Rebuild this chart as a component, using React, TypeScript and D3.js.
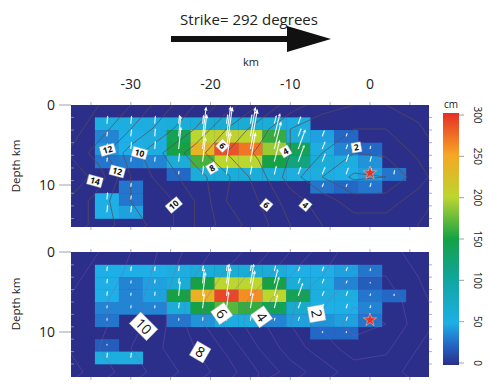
import React from 'react';
import * as d3 from 'd3';

// fault grid: 13 subfaults along strike (3 km), 8 rows down dip
const colStartKm = -34.5;
const colWidthKm = 3;

// slip in cm, rows from shallow to deep, columns west -> east
const slipTop = [
  [55, 55, 55, 60, 60, 65, 65, 60, 55, 0, 0, 0, 0],
  [35, 50, 55, 140, 200, 205, 200, 160, 60, 45, 25, 0, 0],
  [40, 50, 55, 150, 235, 285, 270, 190, 140, 55, 35, 25, 0],
  [30, 32, 35, 60, 165, 200, 200, 150, 120, 60, 55, 40, 0],
  [0, 0, 0, 25, 60, 60, 60, 60, 55, 55, 50, 45, 30],
  [0, 30, 0, 0, 0, 0, 0, 0, 0, 30, 25, 30, 0],
  [50, 30, 0, 0, 0, 0, 0, 0, 0, 0, 0, 0, 0],
  [50, 45, 0, 0, 0, 0, 0, 0, 0, 0, 0, 0, 0],
];

const slipBottom = [
  [50, 50, 50, 55, 60, 65, 65, 60, 50, 50, 45, 30, 0],
  [50, 35, 45, 60, 150, 200, 200, 150, 60, 55, 35, 20, 0],
  [50, 35, 45, 150, 240, 290, 260, 200, 140, 55, 55, 30, 25],
  [35, 35, 35, 60, 150, 170, 160, 140, 70, 50, 50, 35, 0],
  [30, 0, 0, 30, 40, 55, 55, 35, 45, 40, 45, 30, 0],
  [0, 0, 0, 0, 0, 0, 0, 0, 0, 25, 25, 0, 0],
  [20, 0, 0, 0, 0, 0, 0, 0, 0, 0, 0, 0, 0],
  [55, 55, 0, 0, 0, 0, 0, 0, 0, 0, 0, 0, 0],
];

// rake tilt from vertical (deg) per column
const rakeTilt = [6, 6, 5, 6, 7, 8, 10, 14, 20, 22, 20, 15, 10];

// rupture time (s) sampled along strike / depth
const timeX = [-38, -34, -30, -26, -22, -18, -14, -10, -6, -2, 2, 6, 10];
const timeDepth = [0, 3, 6, 9, 12, 15];

const timeTop = [
  [15, 14, 13, 11.5, 10, 8.5, 7, 5.5, 4.5, 4, 4, 4.5, 5.5],
  [14.5, 13.5, 12, 10.5, 9, 7, 5.5, 4, 3.2, 3, 3, 3.8, 5],
  [14, 12.5, 10.5, 9, 7.5, 6, 4.8, 4, 3, 2, 2.2, 3.2, 4.5],
  [15, 13.5, 11, 9.5, 8.5, 7.2, 5.5, 3.5, 2, 0.8, 1, 2.5, 4],
  [14, 12.5, 11, 10.5, 9, 7, 6, 4.5, 3.5, 2.5, 2.5, 3.5, 4.5],
  [14, 12.5, 11.5, 10.5, 9, 7.5, 6.5, 5, 4, 3.5, 3.5, 4, 5],
];

const timeBottom = [
  [13, 12, 11, 9.8, 8.5, 7.5, 6.5, 5, 3.5, 2.5, 2.5, 3.5, 4.5],
  [12.5, 11.5, 10.8, 9.5, 8, 6.8, 5.5, 4, 3, 2, 2, 3, 4],
  [12, 11.2, 10.5, 9.2, 7.5, 6, 4.5, 3.2, 2.2, 1.2, 1.5, 2.5, 4],
  [12, 11.2, 10.5, 9.2, 7.5, 5.8, 4.3, 3, 1.8, 0.5, 1, 2.5, 3.5],
  [12, 11, 10, 9, 8, 6.8, 5, 3.5, 2.5, 1.5, 1.8, 3, 4],
  [12.5, 11.5, 10.5, 9.5, 8.5, 7.5, 6, 4.5, 3.5, 2.5, 2.5, 3.5, 4.5],
];

// contour labels: along-strike km, depth km, text, rotation
const labelsTop = [
  { x: -32.9, d: 5.6, t: '12', r: -15 },
  { x: -28.9, d: 6.0, t: '10', r: 15 },
  { x: -31.7, d: 8.3, t: '12', r: 15 },
  { x: -34.5, d: 9.5, t: '14', r: 15 },
  { x: -24.6, d: 12.5, t: '10', r: -40 },
  { x: -19.8, d: 7.9, t: '8', r: -30 },
  { x: -18.5, d: 5.1, t: '6', r: 45 },
  { x: -13.0, d: 12.5, t: '6', r: 40 },
  { x: -10.6, d: 5.8, t: '4', r: -30 },
  { x: -8.1, d: 12.5, t: '4', r: 40 },
  { x: -1.7, d: 5.3, t: '2', r: -10 },
];

const labelsBottom = [
  { x: -28.4, d: 9.3, t: '10', r: 45 },
  { x: -21.3, d: 12.5, t: '8', r: 30 },
  { x: -18.6, d: 7.7, t: '6', r: 55 },
  { x: -13.6, d: 8.1, t: '4', r: 55 },
  { x: -6.7, d: 7.7, t: '2', r: 80 },
];

const hypo = { x: 0, d: 8.5 };
const xTickLabels = [-30, -20, -10, 0];
const xMinorTicks = [-35, -30, -25, -20, -15, -10, -5, 0, 5];
const depthTickLabels = [0, 10];
const cbTicks = [0, 50, 100, 150, 200, 250, 300];

const cStops = [0, 25, 50, 100, 150, 200, 250, 300];
const cColors = ['#2b2f8a', '#2468c6', '#1eafe6', '#10a6a2', '#15a144', '#bcd630', '#f6a623', '#e62e28'];
const cmap = d3.scaleLinear<string>().domain(cStops).range(cColors).clamp(true);

const font = '"Open Sans", sans-serif';
const xScale = d3.scaleLinear().domain([-37.5, 7.4]).range([71, 429]);

function Panel({ id, slip, times, top, bottom, rowTop, rowH, arrowScale, contourStroke, contourOpacity, labels, labelSize, showTopLabels, titleY }) {
  const y = d3.scaleLinear().domain([0, 10]).range([top, top + 80]);
  const x0 = xScale.range()[0], x1 = xScale.range()[1];

  const n = timeX.length, m = timeDepth.length;
  const dx = timeX[1] - timeX[0], dy = timeDepth[1] - timeDepth[0];
  const proj = d3.geoTransform({
    point(gx, gy) {
      this.stream.point(xScale(timeX[0] + (gx - 0.5) * dx), y(timeDepth[0] + (gy - 0.5) * dy));
    },
  });
  const path = d3.geoPath(proj);
  const contours = d3.contours().size([n, m]).thresholds(d3.range(1, 16, 1))(times.flat());

  const rowBounds = d3.range(0, slip.length + 1).map(i => rowTop + i * rowH);
  const star = d3.symbol(d3.symbolStar, 55)();

  return (
    <g>
      <defs>
        <clipPath id={id}>
          <rect x={x0} y={top} width={x1 - x0} height={bottom - top} />
        </clipPath>
      </defs>
      <rect x={x0} y={top} width={x1 - x0} height={bottom - top} fill={cmap(0)} />
      {slip.map((row, r) => row.map((v, c) => v > 0 ? (
        <rect key={`c${r}-${c}`}
          x={xScale(colStartKm + c * colWidthKm)}
          y={y(rowTop + r * rowH)}
          width={xScale(colStartKm + (c + 1) * colWidthKm) - xScale(colStartKm + c * colWidthKm) + 0.3}
          height={y(rowTop + (r + 1) * rowH) - y(rowTop + r * rowH) + 0.3}
          fill={cmap(v)} />
      ) : null))}
      <g clipPath={`url(#${id})`}>
        {contours.map(c => (
          <path key={c.value} d={path(c)} fill="none" stroke={contourStroke} strokeOpacity={contourOpacity} strokeWidth={0.8} />
        ))}
      </g>
      {/* ticks */}
      {xMinorTicks.map(t => (
        <g key={`xt${t}`} stroke="#9a9aa8" strokeWidth={0.8}>
          <line x1={xScale(t)} x2={xScale(t)} y1={top - 3} y2={top} />
          <line x1={xScale(t)} x2={xScale(t)} y1={bottom} y2={bottom + 3} />
        </g>
      ))}
      {rowBounds.map((d, i) => (
        <g key={`yt${i}`} stroke="#9a9aa8" strokeWidth={0.8}>
          <line x1={x1} x2={x1 + 3} y1={y(d)} y2={y(d)} />
          <line x1={x0} x2={x0 + 3} y1={y(d)} y2={y(d)} />
        </g>
      ))}
      {depthTickLabels.map(t => (
        <g key={`dl${t}`}>
          <line x1={x0 - 12} x2={x0} y1={y(t)} y2={y(t)} stroke="#8a8a96" strokeWidth={0.8} />
          <text x={x0 - 16} y={y(t)} dy="0.35em" textAnchor="end" fontFamily={font} fontSize={14} fill="#222">{t}</text>
        </g>
      ))}
      <text transform={`translate(20,${titleY}) rotate(-90)`} textAnchor="middle" fontFamily={font} fontSize={11.5} fill="#222">Depth km</text>
      {showTopLabels && xTickLabels.map(t => (
        <text key={`xl${t}`} x={xScale(t)} y={84} dy="0.35em" textAnchor="middle" fontFamily={font} fontSize={14} fill="#222">{t}</text>
      ))}
      {/* slip vectors */}
      {slip.map((row, r) => row.map((v, c) => {
        if (v <= 0) return null;
        const cx = xScale(colStartKm + (c + 0.5) * colWidthKm);
        const cy = y(rowTop + (r + 0.5) * rowH);
        const len = v * arrowScale;
        const a = rakeTilt[c] * Math.PI / 180;
        const tx = cx + len * Math.sin(a), ty = cy - len * Math.cos(a);
        const hs = Math.min(4.5, 1.5 + len * 0.08);
        const ux = Math.sin(a), uy = -Math.cos(a);
        const bx = tx - ux * hs, by = ty - uy * hs;
        const head = `M${tx},${ty}L${bx - uy * hs * 0.45},${by + ux * hs * 0.45}L${bx + uy * hs * 0.45},${by - ux * hs * 0.45}Z`;
        return (
          <g key={`a${r}-${c}`}>
            <line x1={cx} y1={cy} x2={bx} y2={by} stroke="#fff" strokeWidth={1.1} strokeOpacity={0.95} />
            <path d={head} fill="#fff" />
          </g>
        );
      }))}
      <path d={star} transform={`translate(${xScale(hypo.x)},${y(hypo.d)})`} fill="#e3342a" stroke="#f4b8a8" strokeWidth={0.6} />
      {/* contour labels */}
      {labels.map((l, i) => {
        const w = l.t.length * labelSize * 0.62 + labelSize * 0.5;
        const h = labelSize * 1.15;
        return (
          <g key={`l${i}`} transform={`translate(${xScale(l.x)},${y(l.d)}) rotate(${l.r})`}>
            <rect x={-w / 2} y={-h / 2} width={w} height={h} fill="#fff" stroke="#bbb" strokeWidth={0.4} />
            <text dy="0.36em" textAnchor="middle" fontFamily={font} fontSize={labelSize} fontWeight={labelSize < 12 ? 700 : 400} fill="#111">{l.t}</text>
          </g>
        );
      })}
    </g>
  );
}

export default function App() {
  const cb = d3.scaleLinear().domain([0, 300]).range([363, 115]);
  const gradStops = d3.range(0, 301, 10);
  return (
    <svg width={489} height={385} style={{ position: 'absolute', left: 0, top: 0, background: '#fff' }}>
      <text x={249} y={20} dy="0.35em" textAnchor="middle" fontFamily={font} fontSize={15} fill="#222">Strike= 292 degrees</text>
      <line x1={171} y1={39} x2={292} y2={39} stroke="#111" strokeWidth={6} />
      <path d="M287,26L331,39L287,52Z" fill="#111" />
      <text x={251} y={62} dy="0.35em" textAnchor="middle" fontFamily={font} fontSize={11} fill="#222">km</text>

      <Panel id="clipTop" slip={slipTop} times={timeTop} top={105} bottom={227} rowTop={1.55} rowH={1.58}
        arrowScale={0.15} contourStroke="#5b4a58" contourOpacity={0.9} labels={labelsTop} labelSize={8.5} showTopLabels titleY={166} />
      <Panel id="clipBottom" slip={slipBottom} times={timeBottom} top={252} bottom={377} rowTop={1.6} rowH={1.55}
        arrowScale={0.1} contourStroke="#8a5aa8" contourOpacity={0.45} labels={labelsBottom} labelSize={14} showTopLabels={false} titleY={304} />

      {/* colorbar */}
      <defs>
        <linearGradient id="cbGrad" x1="0" y1="1" x2="0" y2="0">
          {gradStops.map(v => (
            <stop key={v} offset={`${(v / 300) * 100}%`} stopColor={cmap(v)} />
          ))}
        </linearGradient>
      </defs>
      <rect x={443} y={cb(300) - 2} width={16} height={cb(0) - cb(300) + 4} fill="url(#cbGrad)" />
      <text x={451} y={104} dy="0.35em" textAnchor="middle" fontFamily={font} fontSize={10} fill="#222">cm</text>
      {cbTicks.map(t => (
        <g key={`cb${t}`}>
          <line x1={459} x2={464} y1={cb(t)} y2={cb(t)} stroke="#888" strokeWidth={0.8} />
          <text transform={`translate(477,${cb(t)}) rotate(90)`} dy="0.35em" textAnchor="middle" fontFamily={font} fontSize={10} fill="#222">{t}</text>
        </g>
      ))}
    </svg>
  );
}
